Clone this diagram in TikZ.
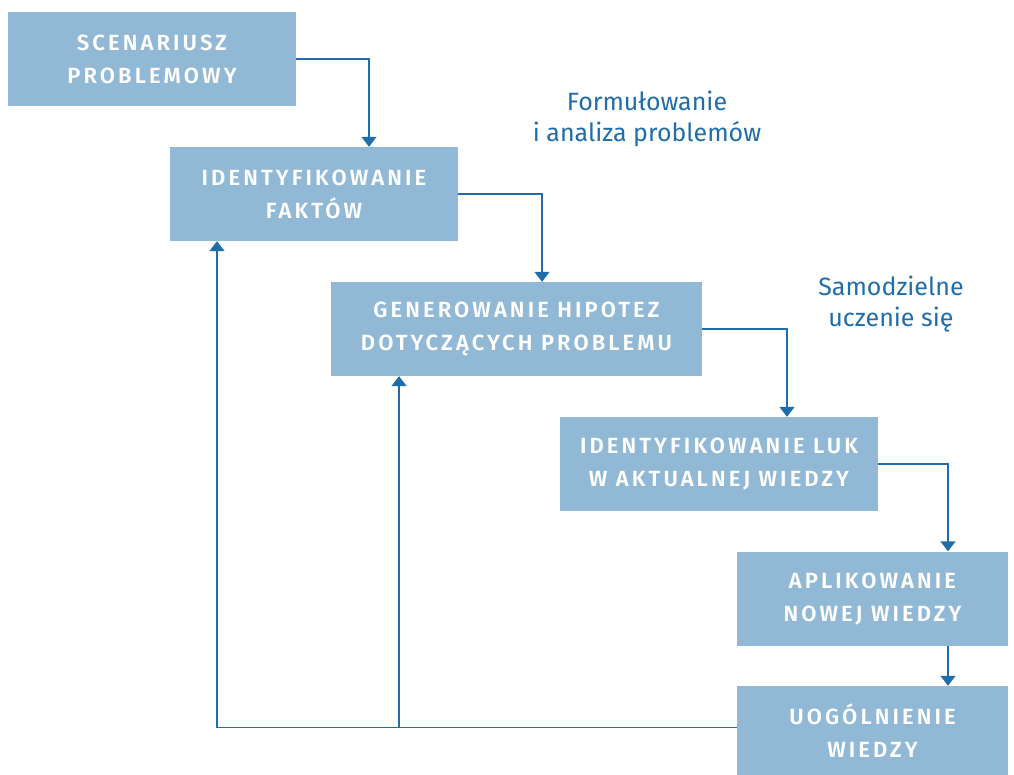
\documentclass[tikz,border=0pt]{standalone}
\usepackage{fontspec}
\setmainfont{Fira Sans}
\newfontfamily\blokfont[LetterSpace=14]{Fira Sans SemiBold}
\usetikzlibrary{arrows.meta, positioning}
\definecolor{blokfill}{HTML}{91B8D5}
\definecolor{liniablue}{HTML}{1F6DAA}
\def\strz{-{Triangle[width=15pt,length=10pt]}}

\begin{document}
\begin{tikzpicture}[x=1pt, y=-1pt,
    blok/.style={fill=blokfill, text=white, minimum height=94, align=center,
        font=\blokfont\fontsize{22}{33}\selectfont, inner sep=0pt},
    opis/.style={text=liniablue, align=center, font=\fontsize{25}{31}\selectfont},
    linia/.style={liniablue, line width=1.4pt}]
    \useasboundingbox (0,0) rectangle (1014,775);

    \node[blok, minimum width=288] (scen) at (152,59) {SCENARIUSZ\\PROBLEMOWY};
    \node[blok, minimum width=288] (fakty) at (314,194) {IDENTYFIKOWANIE\\FAKTÓW};
    \node[blok, minimum width=371] (hipo) at (516.5,329) {GENEROWANIE HIPOTEZ\\DOTYCZĄCYCH PROBLEMU};
    \node[blok, minimum width=318] (luki) at (719,464) {IDENTYFIKOWANIE LUK\\W AKTUALNEJ WIEDZY};
    \node[blok, minimum width=271] (aplik) at (872.5,598.5) {APLIKOWANIE\\NOWEJ WIEDZY};
    \node[blok, minimum width=271, minimum height=89] (uogol) at (872.5,730.5) {UOGÓLNIENIE\\WIEDZY};

    \node[opis] (form) at (647,119) {Formułowanie\\i analiza problemów};
    \node[opis] (samo) at (891,304) {Samodzielne\\uczenie się};

    \draw[linia, \strz] (scen.east) -| ([xshift=55]fakty.north);
    \draw[linia, \strz] (fakty.east) -| ([xshift=25.5]hipo.north);
    \draw[linia, \strz] (hipo.east) -| ([xshift=68]luki.north);
    \draw[linia, \strz] (luki.east) -| ([xshift=75.5]aplik.north);
    \draw[linia, \strz] ([xshift=75.5]aplik.south) -- ([xshift=75.5]uogol.north);

    % powrot do wczesniejszych etapow
    \coordinate (powrot) at ([yshift=3]uogol.west);
    \coordinate (rozg) at ([xshift=-117.5]hipo.south);
    \draw[linia, \strz] (powrot) -| ([xshift=-97]fakty.south);
    \draw[linia, \strz] (rozg |- powrot) -- (rozg);
\end{tikzpicture}
\end{document}
